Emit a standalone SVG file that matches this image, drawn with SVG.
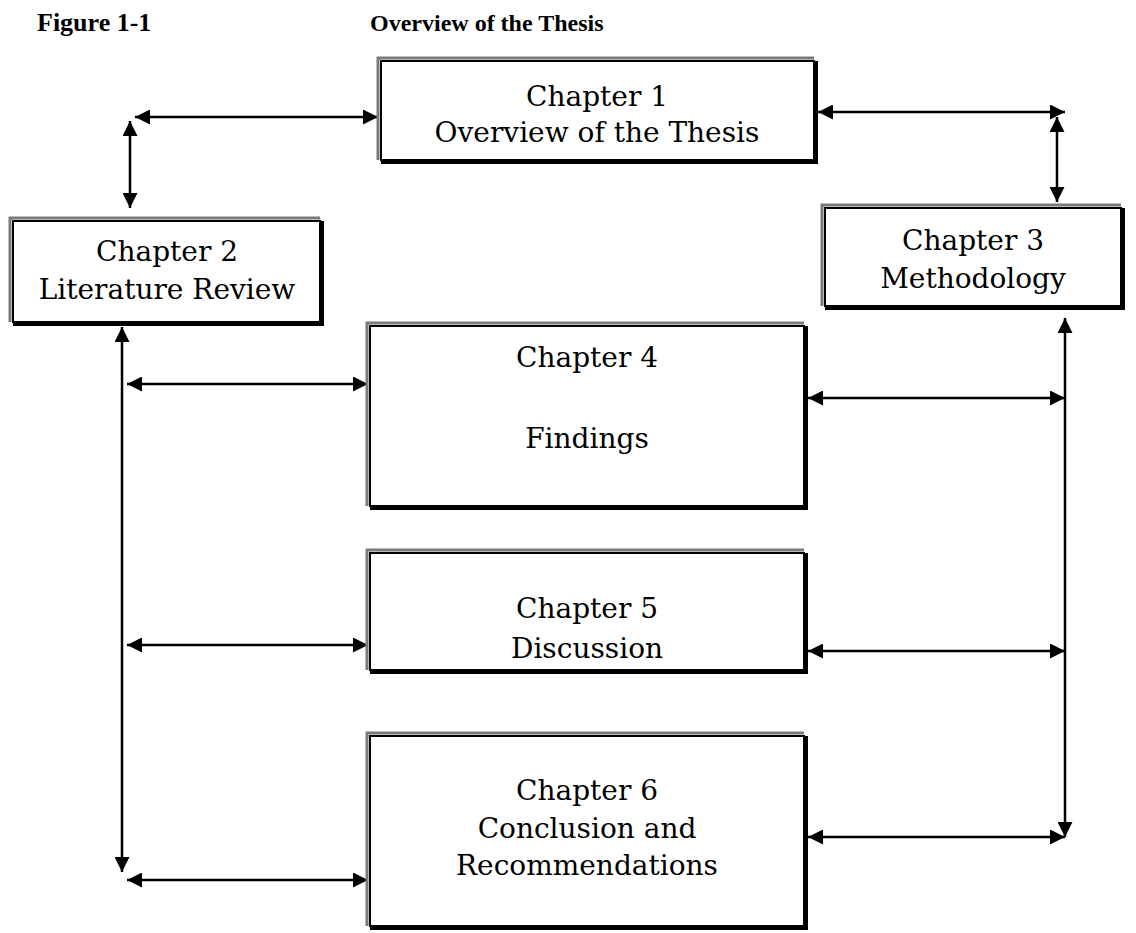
<svg xmlns="http://www.w3.org/2000/svg" width="1136" height="933" viewBox="0 0 1136 933">
<style>
.title{font-family:"Liberation Serif","Times New Roman",serif;font-weight:bold;fill:#000}
.lbl{font-family:"DejaVu Serif","Liberation Serif",serif;font-size:28px;fill:#000;text-anchor:middle}
.frame{fill:#fff;stroke:#000;stroke-width:2}
.hl{fill:none;stroke:#7a7a7a;stroke-width:3}
.sh{fill:none;stroke:#000;stroke-width:4}
.con{stroke:#000;stroke-width:2.5;fill:none;marker-start:url(#ah);marker-end:url(#ah)}
</style>
<defs>
<marker id="ah" viewBox="0 0 10 10" refX="10" refY="5" markerWidth="15" markerHeight="15" markerUnits="userSpaceOnUse" orient="auto-start-reverse">
<path d="M0,0 L10,5 L0,10 z" fill="#000"/>
</marker>
</defs>
<rect width="1136" height="933" fill="#fff"/>
<text class="title" x="37" y="31" font-size="26">Figure 1-1</text>
<text class="title" x="370" y="31" font-size="24">Overview of the Thesis</text>

<g id="connectors">
<line class="con" x1="135" y1="117" x2="378" y2="117"/>
<line class="con" x1="130" y1="121" x2="130" y2="208"/>
<line class="con" x1="818" y1="112" x2="1065" y2="112"/>
<line class="con" x1="1057" y1="117" x2="1057" y2="202"/>
<line class="con" x1="122" y1="327" x2="122" y2="872"/>
<line class="con" x1="127" y1="384" x2="368" y2="384"/>
<line class="con" x1="127" y1="645" x2="368" y2="645"/>
<line class="con" x1="127" y1="880" x2="368" y2="880"/>
<line class="con" x1="1065" y1="318" x2="1065" y2="837"/>
<line class="con" x1="808" y1="398" x2="1065" y2="398"/>
<line class="con" x1="808" y1="651" x2="1065" y2="651"/>
<line class="con" x1="808" y1="837" x2="1065" y2="837"/>
</g>

<g id="ch1">
<rect class="frame" x="381" y="61" width="433" height="99"/>
<path class="hl" d="M378,160 V58 H814"/>
<path class="sh" d="M816,61 V162 H381"/>
<text class="lbl" x="597" y="106">Chapter 1</text>
<text class="lbl" x="597" y="142">Overview of the Thesis</text>
</g>

<g id="ch2">
<rect class="frame" x="13" y="221" width="307" height="101"/>
<path class="hl" d="M10,322 V218 H320"/>
<path class="sh" d="M322,221 V324 H13"/>
<text class="lbl" x="167" y="261">Chapter 2</text>
<text class="lbl" x="167" y="299">Literature Review</text>
</g>

<g id="ch3">
<rect class="frame" x="825" y="208" width="296" height="98"/>
<path class="hl" d="M822,306 V205 H1121"/>
<path class="sh" d="M1123,208 V308 H825"/>
<text class="lbl" x="973" y="250">Chapter 3</text>
<text class="lbl" x="973" y="288">Methodology</text>
</g>

<g id="ch4">
<rect class="frame" x="370" y="326" width="434" height="180"/>
<path class="hl" d="M367,506 V323 H804"/>
<path class="sh" d="M806,326 V508 H370"/>
<text class="lbl" x="587" y="367">Chapter 4</text>
<text class="lbl" x="587" y="448">Findings</text>
</g>

<g id="ch5">
<rect class="frame" x="370" y="553" width="434" height="117"/>
<path class="hl" d="M367,670 V550 H804"/>
<path class="sh" d="M806,553 V672 H370"/>
<text class="lbl" x="587" y="618">Chapter 5</text>
<text class="lbl" x="587" y="658">Discussion</text>
</g>

<g id="ch6">
<rect class="frame" x="370" y="736" width="434" height="190"/>
<path class="hl" d="M367,926 V733 H804"/>
<path class="sh" d="M806,736 V928 H370"/>
<text class="lbl" x="587" y="800">Chapter 6</text>
<text class="lbl" x="587" y="838">Conclusion and</text>
<text class="lbl" x="587" y="875">Recommendations</text>
</g>
</svg>
